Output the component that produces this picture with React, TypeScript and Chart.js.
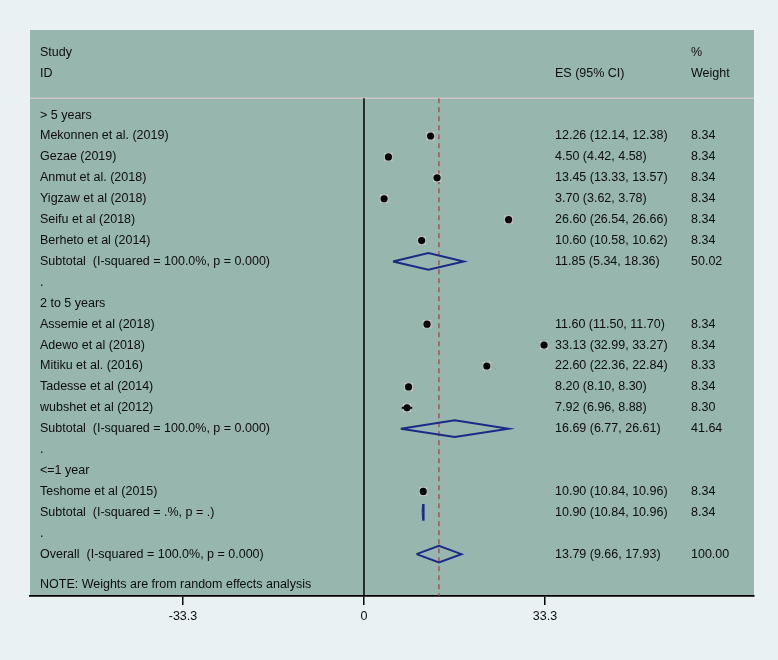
import React, { useEffect, useRef } from "react";
import { Chart, registerables } from "chart.js";
Chart.register(...registerables);

const groupLabels = ["> 5 years", "2 to 5 years", "<=1 year"];
const studyNames = [
  "Mekonnen et al. (2019)",
  "Gezae (2019)",
  "Anmut et al. (2018)",
  "Yigzaw et al (2018)",
  "Seifu et al (2018)",
  "Berheto et al (2014)",
  "Assemie et al (2018)",
  "Adewo et al (2018)",
  "Mitiku et al. (2016)",
  "Tadesse et al (2014)",
  "wubshet et al (2012)",
  "Teshome et al (2015)",
];
const studyGroup = [0, 0, 0, 0, 0, 0, 1, 1, 1, 1, 1, 2];
const studyES = [12.26, 4.5, 13.45, 3.7, 26.6, 10.6, 11.6, 33.13, 22.6, 8.2, 7.92, 10.9];
const studyLo = [12.14, 4.42, 13.33, 3.62, 26.54, 10.58, 11.5, 32.99, 22.36, 8.1, 6.96, 10.84];
const studyHi = [12.38, 4.58, 13.57, 3.78, 26.66, 10.62, 11.7, 33.27, 22.84, 8.3, 8.88, 10.96];
const studyWeight = ["8.34", "8.34", "8.34", "8.34", "8.34", "8.34", "8.34", "8.34", "8.33", "8.34", "8.30", "8.34"];
const subES = [11.85, 16.69, 10.9];
const subLo = [5.34, 6.77, 10.84];
const subHi = [18.36, 26.61, 10.96];
const subWeight = ["50.02", "41.64", "8.34"];
const subI2 = ["100.0%", "100.0%", ".%"];
const subP = ["0.000", "0.000", "."];
const overallES = 13.79;
const overallLo = 9.66;
const overallHi = 17.93;
const overallWeight = "100.00";
const overallI2 = "100.0%";
const overallP = "0.000";
const xTicks = [-33.3, 0, 33.3];
const xTickLabels = ["-33.3", "0", "33.3"];
const noteText = "NOTE: Weights are from random effects analysis";

const X_MIN = -61.45;
const X_MAX = 71.76;
const Y_MIN = -4.07;
const Y_MAX = 23.0;
const SEP_ROW = -0.8;
const FONT = '12.5px "Liberation Sans", Arial, sans-serif';
const PANEL = "#97b6ae";
const PAGE = "#eaf1f3";
const NAVY = "#1b2a87";

const fmt = (v: number) => v.toFixed(2);

type Row = { row: number; label: string; es?: string; w?: string };

function buildLayout() {
  const rows: Row[] = [];
  const studyRow: number[] = [];
  const subRow: number[] = [];
  let r = 0;
  groupLabels.forEach((g, gi) => {
    rows.push({ row: r, label: g });
    r++;
    studyNames.forEach((n, i) => {
      if (studyGroup[i] !== gi) return;
      studyRow[i] = r;
      rows.push({ row: r, label: n, es: `${fmt(studyES[i])} (${fmt(studyLo[i])}, ${fmt(studyHi[i])})`, w: studyWeight[i] });
      r++;
    });
    subRow[gi] = r;
    rows.push({
      row: r,
      label: `Subtotal  (I-squared = ${subI2[gi]}, p = ${subP[gi]})`,
      es: `${fmt(subES[gi])} (${fmt(subLo[gi])}, ${fmt(subHi[gi])})`,
      w: subWeight[gi],
    });
    r++;
    rows.push({ row: r, label: "." });
    r++;
  });
  const overallRow = r;
  rows.push({
    row: r,
    label: `Overall  (I-squared = ${overallI2}, p = ${overallP})`,
    es: `${fmt(overallES)} (${fmt(overallLo)}, ${fmt(overallHi)})`,
    w: overallWeight,
  });
  const noteRow = r + 1.45;
  return { rows, studyRow, subRow, overallRow, noteRow };
}

function diamond(es: number, lo: number, hi: number, y: number) {
  const h = 0.4;
  return [
    { x: lo, y },
    { x: es, y: y - h },
    { x: hi, y },
    { x: es, y: y + h },
    { x: lo, y },
  ];
}

export default function App() {
  const ref = useRef<HTMLCanvasElement | null>(null);
  useEffect(() => {
    if (!ref.current) return;
    const L = buildLayout();
    const datasets: any[] = [];

    datasets.push({
      type: "line",
      data: [{ x: X_MIN, y: SEP_ROW }, { x: X_MAX, y: SEP_ROW }],
      borderColor: "#cfc3c4",
      borderWidth: 1.5,
      pointRadius: 0,
      showLine: true,
      order: 10,
    });
    datasets.push({
      type: "line",
      data: [{ x: 0, y: SEP_ROW }, { x: 0, y: Y_MAX }],
      borderColor: "#000000",
      borderWidth: 1.5,
      pointRadius: 0,
      showLine: true,
      order: 9,
    });
    datasets.push({
      type: "line",
      data: [{ x: overallES, y: SEP_ROW }, { x: overallES, y: Y_MAX }],
      borderColor: "#a93a44",
      borderWidth: 1.2,
      borderDash: [5, 4],
      pointRadius: 0,
      showLine: true,
      order: 8,
    });

    // weight boxes
    datasets.push({
      type: "scatter",
      data: studyNames.map((_, i) => ({ x: studyES[i], y: L.studyRow[i] })),
      pointStyle: "rect",
      pointRadius: 6,
      backgroundColor: "#c3c6c4",
      borderWidth: 0,
      order: 6,
    });

    // CIs
    studyNames.forEach((_, i) => {
      datasets.push({
        type: "line",
        data: [{ x: studyLo[i], y: L.studyRow[i] }, { x: studyHi[i], y: L.studyRow[i] }],
        borderColor: "#000000",
        borderWidth: 2,
        pointRadius: 0,
        showLine: true,
        order: 5,
      });
    });

    // point estimates
    datasets.push({
      type: "scatter",
      data: studyNames.map((_, i) => ({ x: studyES[i], y: L.studyRow[i] })),
      pointStyle: "circle",
      pointRadius: 3.6,
      backgroundColor: "#000000",
      borderWidth: 0,
      order: 3,
    });

    // diamonds
    subES.forEach((v, gi) => {
      datasets.push({
        type: "line",
        data: diamond(v, subLo[gi], subHi[gi], L.subRow[gi]),
        borderColor: NAVY,
        borderWidth: subHi[gi] - subLo[gi] < 1 ? 2.4 : 2,
        pointRadius: 0,
        showLine: true,
        tension: 0,
        order: 2,
      });
    });
    datasets.push({
      type: "line",
      data: diamond(overallES, overallLo, overallHi, L.overallRow),
      borderColor: NAVY,
      borderWidth: 2,
      pointRadius: 0,
      showLine: true,
      tension: 0,
      order: 2,
    });

    const bgPlugin = {
      id: "panelBg",
      beforeDraw(chart: any) {
        const { ctx, chartArea: a } = chart;
        ctx.save();
        ctx.fillStyle = PAGE;
        ctx.fillRect(0, 0, chart.width, chart.height);
        ctx.fillStyle = PANEL;
        ctx.fillRect(a.left, a.top, a.right - a.left, a.bottom - a.top);
        ctx.restore();
      },
    };

    const textPlugin = {
      id: "forestText",
      afterDatasetsDraw(chart: any) {
        const { ctx, chartArea: a } = chart;
        const ys = chart.scales.y;
        const colLabel = a.left + 10;
        const colES = a.left + 525;
        const colW = a.left + 661;
        ctx.save();
        ctx.font = FONT;
        ctx.fillStyle = "#0d0d0d";
        ctx.textBaseline = "middle";
        ctx.textAlign = "left";
        const put = (t: string, x: number, row: number) => ctx.fillText(t, x, ys.getPixelForValue(row));
        put("Study", colLabel, -3);
        put("ID", colLabel, -2);
        put("%", colW, -3);
        put("ES (95% CI)", colES, -2);
        put("Weight", colW, -2);
        L.rows.forEach((r) => {
          put(r.label, colLabel, r.row);
          if (r.es) put(r.es, colES, r.row);
          if (r.w) put(r.w, colW, r.row);
        });
        put(noteText, colLabel, L.noteRow);
        ctx.restore();
      },
    };

    const chart = new Chart(ref.current, {
      type: "scatter",
      data: { datasets },
      plugins: [bgPlugin, textPlugin],
      options: {
        animation: false,
        responsive: false,
        layout: { padding: { left: 30, top: 30, right: 24, bottom: 0 } },
        plugins: { legend: { display: false }, tooltip: { enabled: false } },
        scales: {
          x: {
            type: "linear",
            min: X_MIN,
            max: X_MAX,
            afterBuildTicks: (s: any) => {
              s.ticks = xTicks.map((v) => ({ value: v }));
            },
            afterFit: (s: any) => {
              s.height = 64;
            },
            ticks: {
              autoSkip: false,
              maxRotation: 0,
              padding: 4,
              color: "#0d0d0d",
              font: { family: '"Liberation Sans", Arial, sans-serif', size: 12.5 },
              callback: (v: any) => {
                const i = xTicks.indexOf(Number(v));
                return i >= 0 ? xTickLabels[i] : "";
              },
            },
            grid: {
              drawOnChartArea: false,
              drawTicks: true,
              tickLength: 9,
              color: "#000000",
              lineWidth: 1.5,
            },
            border: { display: true, color: "#000000", width: 1.8 },
          },
          y: {
            type: "linear",
            display: false,
            reverse: true,
            min: Y_MIN,
            max: Y_MAX,
          },
        },
      },
    });
    return () => chart.destroy();
  }, []);

  return (
    <div style={{ position: "fixed", left: 0, top: 0, width: 778, height: 660, background: PAGE }}>
      <canvas ref={ref} width={778} height={660} style={{ display: "block" }} />
    </div>
  );
}
